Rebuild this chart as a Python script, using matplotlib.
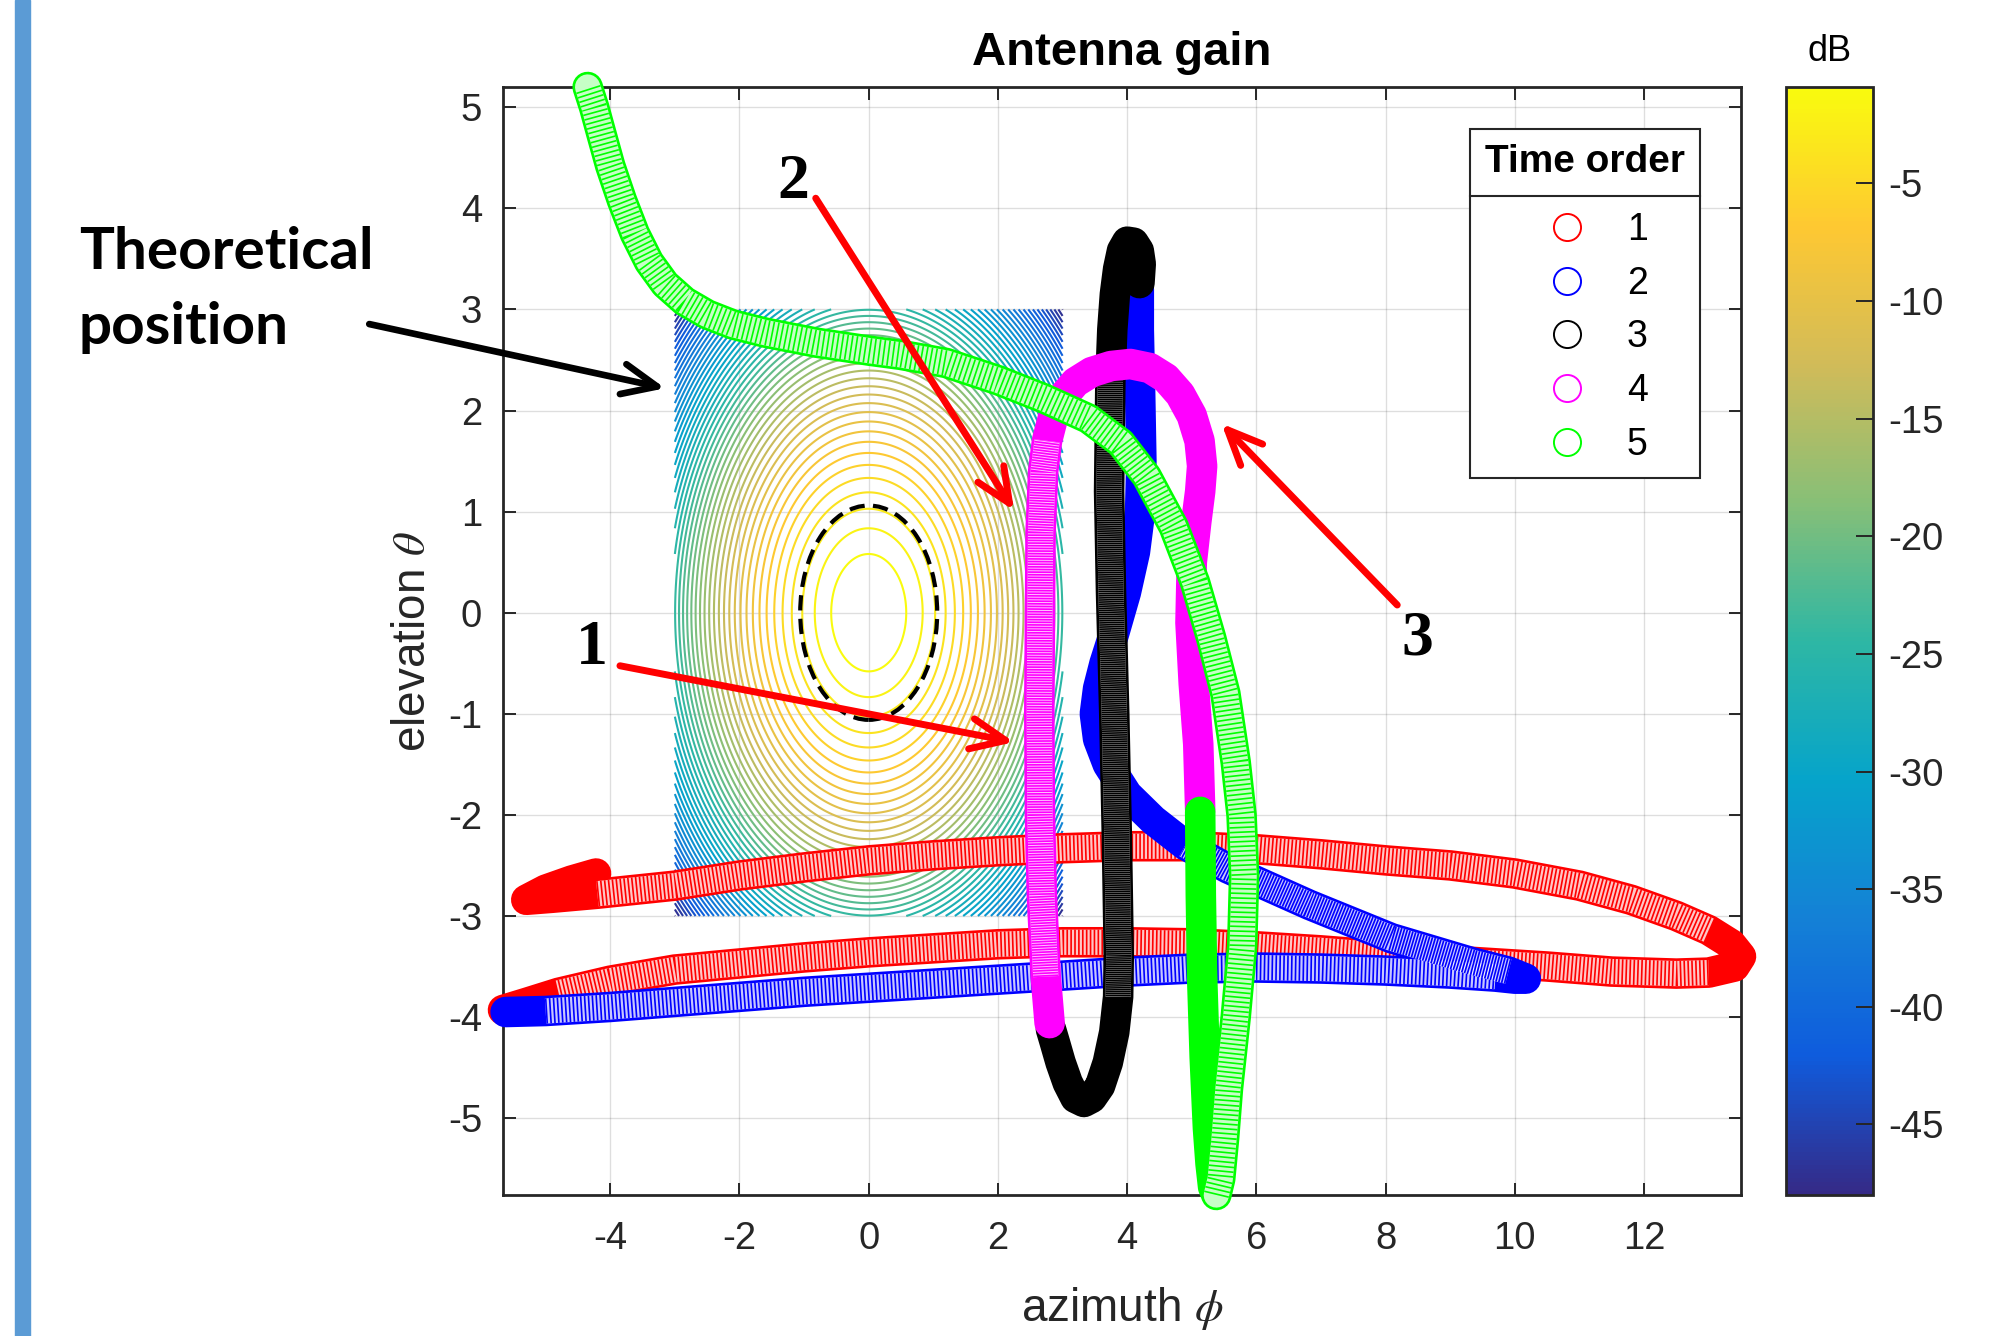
import matplotlib
matplotlib.use("Agg")
import matplotlib.pyplot as plt
import numpy as np
from matplotlib.cm import ScalarMappable
from matplotlib.colors import LinearSegmentedColormap, Normalize
from matplotlib.lines import Line2D
from matplotlib.patches import Ellipse, Rectangle

# ------------------------------------------------------------
# Data
# ------------------------------------------------------------

# trajectory 1 (red)
RED_X = [-4.22, -4.6, -5.0, -5.3, -4.9, -4.2, -3.0, -2.0, -1.0, 0.0, 1.0, 2.0, 3.0, 4.0, 5.0,
         6.0, 7.0, 8.0, 9.0, 10.0, 11.0, 11.8, 12.5, 13.0, 13.35, 13.5, 13.4, 13.0, 12.5, 11.5,
         10.5, 9.0, 8.0, 7.0, 6.0, 5.0, 4.0, 3.0, 2.0, 1.0, 0.0, -1.0, -2.0, -3.0, -4.0, -4.8,
         -5.3, -5.66]
RED_Y = [-2.58, -2.65, -2.74, -2.84, -2.82, -2.78, -2.70, -2.60, -2.52, -2.45, -2.40, -2.36,
         -2.33, -2.31, -2.31, -2.34, -2.39, -2.45, -2.50, -2.58, -2.70, -2.84, -3.00, -3.14,
         -3.28, -3.40, -3.50, -3.56, -3.57, -3.55, -3.50, -3.44, -3.39, -3.34, -3.30, -3.27,
         -3.26, -3.26, -3.28, -3.32, -3.36, -3.41, -3.47, -3.53, -3.64, -3.76, -3.86, -3.93]

# trajectory 2 (blue)
BLUE_X = [-5.62, -5.0, -4.0, -3.0, -2.0, -1.0, 0.0, 1.0, 2.0, 3.0, 4.0, 5.0, 6.0, 7.0, 8.0,
          9.0, 9.7, 10.0, 10.17, 9.9, 9.35, 8.09, 6.82, 5.56, 4.9, 4.4, 4.0, 3.7, 3.55, 3.5,
          3.55, 3.65, 3.8, 3.98, 4.12, 4.2, 4.22, 4.2, 4.18, 4.18]
BLUE_Y = [-3.95, -3.94, -3.90, -3.85, -3.80, -3.75, -3.71, -3.67, -3.63, -3.59, -3.55, -3.52,
          -3.51, -3.52, -3.54, -3.57, -3.60, -3.62, -3.62, -3.55, -3.46, -3.22, -2.89, -2.53,
          -2.30, -2.05, -1.80, -1.50, -1.25, -1.00, -0.75, -0.50, -0.20, 0.20, 0.60, 1.00,
          1.50, 2.20, 2.80, 3.20]

# trajectory 3 (black)
BLACK_X = [4.19, 4.21, 4.18, 4.1, 4.0, 3.92, 3.86, 3.81, 3.77, 3.74, 3.72, 3.75, 3.8, 3.84,
           3.87, 3.86, 3.8, 3.7, 3.58, 3.45, 3.33, 3.2, 3.08, 2.97, 2.88, 2.82]
BLACK_Y = [3.26, 3.45, 3.58, 3.66, 3.67, 3.58, 3.40, 3.15, 2.80, 2.30, 1.20, 0.20, -1.00,
           -2.20, -3.40, -3.80, -4.15, -4.45, -4.68, -4.80, -4.84, -4.80, -4.65, -4.45,
           -4.25, -4.12]

# trajectory 4 (magenta)
MAGENTA_X = [2.8, 2.74, 2.68, 2.65, 2.64, 2.65, 2.66, 2.7, 2.76, 2.86, 3.0, 3.2, 3.45, 3.75,
             4.05, 4.35, 4.6, 4.82, 5.0, 5.12, 5.16, 5.13, 5.07, 5.0, 4.98, 5.03, 5.1, 5.13]
MAGENTA_Y = [-4.06, -3.60, -2.80, -2.00, -1.00, 0.00, 0.80, 1.40, 1.70, 1.95, 2.13, 2.28,
             2.38, 2.44, 2.46, 2.42, 2.32, 2.16, 1.95, 1.70, 1.45, 1.20, 0.90, 0.50, -0.10,
             -0.70, -1.30, -1.95]

# trajectory 5 (green)
GREEN_X = [5.13, 5.14, 5.16, 5.2, 5.25, 5.29, 5.33, 5.38, 5.44, 5.5, 5.56, 5.68, 5.78, 5.81,
           5.77, 5.68, 5.52, 5.3, 5.05, 4.72, 4.3, 3.9, 3.4, 2.71, 2.0, 1.2, 0.5, 0.03, -0.8,
           -1.6, -2.1, -2.5, -2.85, -3.15, -3.4, -3.62, -3.82, -4.0, -4.13, -4.25, -4.35]
GREEN_Y = [-1.97, -2.80, -3.60, -4.40, -5.10, -5.45, -5.68, -5.76, -5.60, -5.20, -4.71, -4.00,
           -3.30, -2.60, -2.00, -1.48, -0.80, -0.25, 0.30, 0.85, 1.35, 1.68, 1.92, 2.12, 2.30,
           2.47, 2.55, 2.59, 2.67, 2.77, 2.85, 2.95, 3.08, 3.25, 3.47, 3.75, 4.08, 4.42, 4.72,
           5.00, 5.20]

TRACK_LABELS = ["1", "2", "3", "4", "5"]

# theoretical antenna pattern: G = -12 (r / beamwidth)^2 dB over a 6x6 window
BEAMWIDTH = 2.12
PATTERN_HALF_SPAN = 3.0
HALF_POWER_RADIUS = 1.06
GAIN_MIN, GAIN_MAX = -48.0, -0.9
N_LEVELS = 50
CBAR_TICKS = [-45, -40, -35, -30, -25, -20, -15, -10, -5]

X_TICKS = [-4, -2, 0, 2, 4, 6, 8, 10, 12]
Y_TICKS = [-5, -4, -3, -2, -1, 0, 1, 2, 3, 4, 5]

# ------------------------------------------------------------
# Styling
# ------------------------------------------------------------
TRACK_COLORS = ["#ff0000", "#0000ff", "#000000", "#ff00ff", "#00ff00"]
# index ranges where the circles are sparse enough to see through: (start, stop, gap in pt)
TRACK_OPEN = [
    [(5, 23, 1.6), (27, 45, 1.6)],
    [(1, 16, 1.6), (19, 24, 0.9)],
    [(9, 15, 0.3)],
    [(1, 8, 0.7)],
    [(7, 40, 2.2)],
]
TUBE_LW = 22.0
RING_LW = 1.9
STRIPE_LW = 1.2
AX_COLOR = "#262626"

PARULA = ["#352a87", "#0f5cdd", "#1481d6", "#06a4ca", "#2eb7a4",
          "#87bf77", "#d1bb59", "#fec832", "#f9fb0e"]

plt.rcParams["font.family"] = ["Liberation Sans", "DejaVu Sans"]
plt.rcParams["mathtext.fontset"] = "stix"
plt.rcParams["axes.unicode_minus"] = False
plt.rcParams["lines.scale_dashes"] = False

W, H = 1997, 1336
fig = plt.figure(figsize=(W / 100, H / 100), dpi=100)
fig.patch.set_facecolor("white")

# slide accent bar on the left
fig.patches.append(Rectangle((15 / W, 0), 15 / W, 1, transform=fig.transFigure,
                             color="#5b9bd5", zorder=0))

ax = fig.add_axes([503 / W, 1 - 1195 / H, 1238 / W, 1108 / H])
cax = fig.add_axes([1786 / W, 1 - 1195 / H, 87 / W, 1108 / H])

cmap = LinearSegmentedColormap.from_list("parula", PARULA, N=256)
norm = Normalize(vmin=GAIN_MIN, vmax=GAIN_MAX)

# contour of the theoretical gain
gx = np.linspace(-PATTERN_HALF_SPAN, PATTERN_HALF_SPAN, 401)
gy = np.linspace(-PATTERN_HALF_SPAN, PATTERN_HALF_SPAN, 401)
GX, GY = np.meshgrid(gx, gy)
gain = -12.0 * (np.hypot(GX, GY) / BEAMWIDTH) ** 2
levels = np.linspace(GAIN_MIN, GAIN_MAX, N_LEVELS)
ax.contour(GX, GY, gain, levels=levels, cmap=cmap, norm=norm, linewidths=1.5, zorder=2)

ax.add_patch(Ellipse((0, 0), 2 * HALF_POWER_RADIUS, 2 * HALF_POWER_RADIUS, fill=False,
                     edgecolor="black", lw=3.0, ls=(0, (11, 6)), zorder=2.5))

# trajectories: a tube of open circles, solid where the circles pile up
tracks = [(RED_X, RED_Y), (BLUE_X, BLUE_Y), (BLACK_X, BLACK_Y),
          (MAGENTA_X, MAGENTA_Y), (GREEN_X, GREEN_Y)]
inner = TUBE_LW - 2 * RING_LW
for (xs, ys), color, opens in zip(tracks, TRACK_COLORS, TRACK_OPEN):
    ax.plot(xs, ys, color=color, lw=TUBE_LW, solid_capstyle="round",
            solid_joinstyle="round", zorder=3, clip_on=False)
    for i0, i1, gap in opens:
        sx, sy = xs[i0:i1 + 1], ys[i0:i1 + 1]
        cap = "round" if i1 == len(xs) - 1 else "butt"
        ax.plot(sx, sy, color="white", alpha=0.78, lw=inner, solid_capstyle=cap,
                solid_joinstyle="round", zorder=3, clip_on=False)
        ax.plot(sx, sy, color=color, lw=inner, ls=(0, (STRIPE_LW, gap)),
                dash_capstyle="butt", dash_joinstyle="round", zorder=3, clip_on=False)

all_x = np.concatenate([t[0] for t in tracks])
all_y = np.concatenate([t[1] for t in tracks])
ax.set_xlim(all_x.min(), all_x.max())
ax.set_ylim(all_y.min(), all_y.max())

ax.set_xticks(X_TICKS)
ax.set_yticks(Y_TICKS)
ax.tick_params(direction="in", length=9, width=1.4, top=True, right=True,
               labelsize=27.5, colors=AX_COLOR)
ax.tick_params(axis="x", pad=19)
ax.tick_params(axis="y", pad=15)
for s in ax.spines.values():
    s.set_linewidth(2.0)
    s.set_color(AX_COLOR)
ax.grid(True, color="#262626", alpha=0.15, lw=1.0)
ax.set_axisbelow(True)

ax.set_title("Antenna gain", fontsize=34, fontweight="bold", pad=16)
ax.set_xlabel(r"azimuth $\phi$", fontsize=33, color=AX_COLOR, labelpad=20)
ax.set_ylabel(r"elevation $\theta$", fontsize=33, color=AX_COLOR, labelpad=9)

# legend
handles = [Line2D([], [], ls="none", marker="o", ms=19.5, mfc="none", mec=c, mew=1.4)
           for c in TRACK_COLORS]
leg = ax.legend(handles, TRACK_LABELS, title="Time order", loc="upper left",
                bbox_to_anchor=(0.7656, 0.979), fontsize=27,
                title_fontproperties={"weight": "bold", "size": 28},
                handlelength=2.4, handletextpad=0.4, labelspacing=0.47,
                borderpad=0.4, fancybox=False, framealpha=1, edgecolor=AX_COLOR)
leg.get_frame().set_linewidth(1.5)
leg._legend_box.sep += 10.5  # taller title row, as in the MATLAB legend

# colorbar
sm = ScalarMappable(norm=norm, cmap=cmap)
cb = fig.colorbar(sm, cax=cax)
cb.set_ticks(CBAR_TICKS)
cax.tick_params(direction="in", length=12, width=1.4, labelsize=27.5, pad=11,
                colors=AX_COLOR)
cb.outline.set_linewidth(2.0)
cb.outline.set_edgecolor(AX_COLOR)
cax.set_title("dB", fontsize=26, pad=19)

# annotations
arrow_kw = dict(shrinkA=0, shrinkB=0, mutation_scale=50,
                arrowstyle="->,head_length=0.5,head_width=0.22")
ax.annotate("", xy=(-3.15, 2.22), xytext=(-7.73, 2.855), annotation_clip=False,
            arrowprops=dict(color="black", lw=4.8, **arrow_kw))
ax.annotate("", xy=(2.25, 1.01), xytext=(-0.82, 4.10), annotation_clip=False,
            arrowprops=dict(color="#ff0000", lw=5.0, **arrow_kw))
ax.annotate("", xy=(2.25, -1.28), xytext=(-3.85, -0.525), annotation_clip=False,
            arrowprops=dict(color="#ff0000", lw=5.0, **arrow_kw))
ax.annotate("", xy=(5.46, 1.87), xytext=(8.18, 0.076), annotation_clip=False,
            arrowprops=dict(color="#ff0000", lw=5.0, **arrow_kw))

num_kw = dict(fontsize=46, fontweight="bold", family="Liberation Serif",
              ha="center", va="center", zorder=6)
ax.text(-1.17, 4.25, "2", **num_kw)
ax.text(-4.28, -0.36, "1", **num_kw)
ax.text(8.49, -0.27, "3", **num_kw)

fig.text(79 / W, 1 - 226 / H, "Theoretical\nposition", fontsize=42, fontweight="bold",
         family="Lato", ha="left", va="top", linespacing=1.5)

# separator under the legend title
fig.canvas.draw()
r = fig.canvas.get_renderer()
tb = leg.get_title().get_window_extent(r)
hb = leg._legend_handle_box.get_window_extent(r)
fb = leg.get_frame().get_window_extent(r)
y_sep = 0.5 * (tb.y0 + hb.y1)
p0 = fig.transFigure.inverted().transform((fb.x0, y_sep))
p1 = fig.transFigure.inverted().transform((fb.x1, y_sep))
fig.add_artist(Line2D([p0[0], p1[0]], [p0[1], p1[1]], transform=fig.transFigure,
                      color=AX_COLOR, lw=1.5, zorder=10))

fig.savefig("out.png", dpi=100, facecolor="white")
